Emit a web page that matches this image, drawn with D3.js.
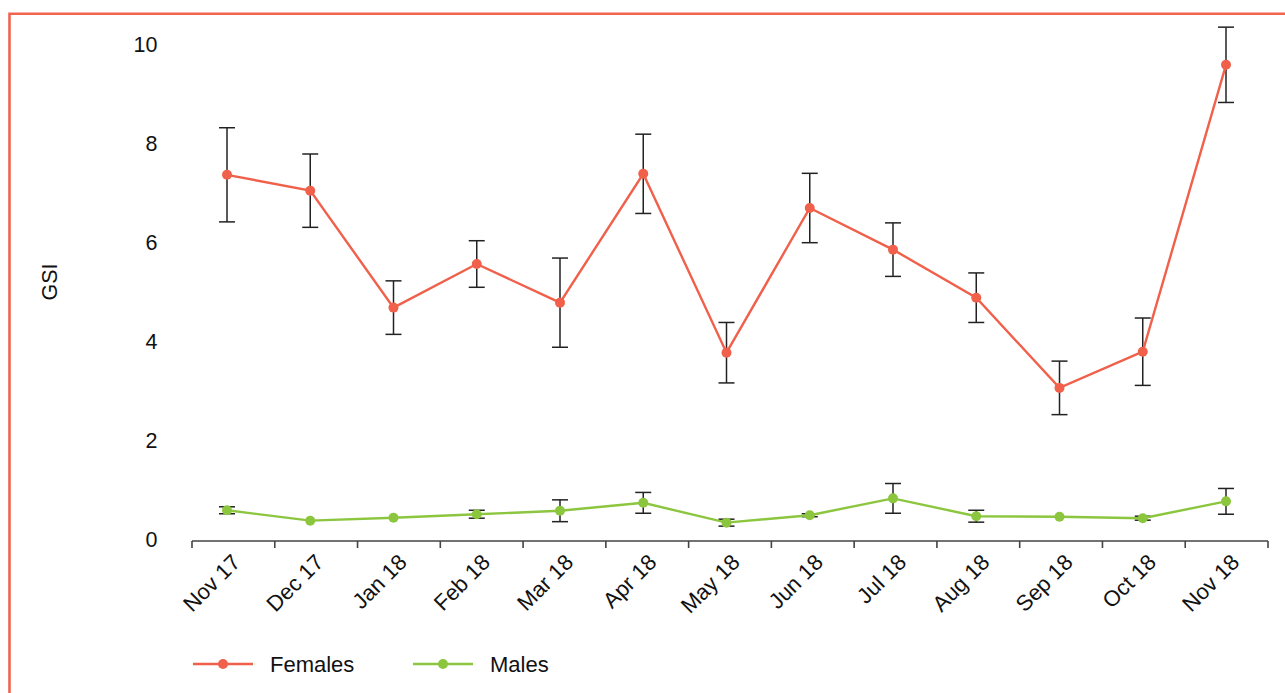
<!DOCTYPE html>
<html lang="en">
    <head>
        <meta charset="UTF-8" />
        <title>GSI by month</title>
        <script src="https://d3js.org/d3.v7.min.js"></script>
        <style>
            body { margin: 0; background: #fff; }
            text { font-family: "Liberation Sans", Arial, sans-serif; fill: #111; }
        </style>
    </head>
    <body>
        <svg width="1285" height="693"></svg>

        <script>
            // data
            const months = ["Nov 17", "Dec 17", "Jan 18", "Feb 18", "Mar 18", "Apr 18", "May 18",
                "Jun 18", "Jul 18", "Aug 18", "Sep 18", "Oct 18", "Nov 18"];
            const femaleMean = [7.36, 7.04, 4.68, 5.56, 4.78, 7.38, 3.77, 6.69, 5.85, 4.88, 3.06, 3.79, 9.58];
            const femaleErr  = [0.95, 0.74, 0.54, 0.47, 0.90, 0.80, 0.61, 0.70, 0.54, 0.50, 0.54, 0.68, 0.76];
            const maleMean = [0.59, 0.38, 0.44, 0.51, 0.58, 0.74, 0.34, 0.49, 0.83, 0.47, 0.46, 0.43, 0.77];
            const maleErr  = [0.07, 0, 0, 0.08, 0.22, 0.21, 0.07, 0.03, 0.30, 0.12, 0, 0.04, 0.26];
            const yTicks = [0, 2, 4, 6, 8, 10];

            const series = [
                { name: "Females", color: "#f0604b", mean: femaleMean, err: femaleErr },
                { name: "Males", color: "#8cc63f", mean: maleMean, err: maleErr },
            ];

            const svg = d3.select("svg");

            // frame
            svg.append("path")
                .attr("d", "M9.5,700 L9.5,13.8 L1290,13.8")
                .attr("fill", "none")
                .attr("stroke", "#f26451")
                .attr("stroke-width", 2.6);

            // scales
            const xBand = d3.scaleBand().domain(months).range([192, 1268]);
            const x = d3.scalePoint().domain(months).range([227, 1226]);
            const y = d3.scaleLinear().domain([0, 10]).range([539.5, 44]);

            // y labels (no axis line)
            svg.append("g")
                .selectAll("text")
                .data(yTicks)
                .join("text")
                .attr("x", 157.5)
                .attr("y", (d) => y(d))
                .attr("dy", "0.36em")
                .attr("text-anchor", "end")
                .attr("font-size", 21.5)
                .text((d) => d);

            svg.append("text")
                .attr("transform", "translate(57,282) rotate(-90)")
                .attr("text-anchor", "middle")
                .attr("font-size", 21.5)
                .text("GSI");

            // x axis
            const xAxis = svg.append("g").attr("transform", "translate(0,541)");
            xAxis.append("line")
                .attr("x1", 192).attr("x2", 1268)
                .attr("stroke", "#444").attr("stroke-width", 1.6);
            xAxis.selectAll("line.tick")
                .data(months.concat(["end"]))
                .join("line")
                .attr("class", "tick")
                .attr("x1", (d, i) => xBand.range()[0] + i * xBand.step())
                .attr("x2", (d, i) => xBand.range()[0] + i * xBand.step())
                .attr("y1", 0).attr("y2", 7)
                .attr("stroke", "#444").attr("stroke-width", 1.6);
            xAxis.selectAll("text")
                .data(months)
                .join("text")
                .attr("transform", (d) => `translate(${x(d) + 9},${17}) rotate(-45)`)
                .attr("text-anchor", "end")
                .attr("dy", "0.36em")
                .attr("font-size", 22)
                .text((d) => d);

            // series
            const line = d3.line().x((d) => x(d.m)).y((d) => y(d.v));
            series.forEach((s) => {
                const pts = months.map((m, i) => ({ m, v: s.mean[i], e: s.err[i] }));
                const g = svg.append("g");

                // error bars
                const eb = g.selectAll("g.err").data(pts.filter((d) => d.e > 0)).join("g").attr("class", "err")
                    .attr("stroke", "#222").attr("stroke-width", 1.5);
                eb.append("line")
                    .attr("x1", (d) => x(d.m)).attr("x2", (d) => x(d.m))
                    .attr("y1", (d) => y(d.v + d.e)).attr("y2", (d) => y(d.v - d.e));
                eb.append("line")
                    .attr("x1", (d) => x(d.m) - 8).attr("x2", (d) => x(d.m) + 8)
                    .attr("y1", (d) => y(d.v + d.e)).attr("y2", (d) => y(d.v + d.e));
                eb.append("line")
                    .attr("x1", (d) => x(d.m) - 8).attr("x2", (d) => x(d.m) + 8)
                    .attr("y1", (d) => y(d.v - d.e)).attr("y2", (d) => y(d.v - d.e));

                g.append("path")
                    .datum(pts)
                    .attr("d", line)
                    .attr("fill", "none")
                    .attr("stroke", s.color)
                    .attr("stroke-width", 2.4);

                g.selectAll("circle")
                    .data(pts)
                    .join("circle")
                    .attr("cx", (d) => x(d.m))
                    .attr("cy", (d) => y(d.v))
                    .attr("r", 5)
                    .attr("fill", s.color);
            });

            // legend
            const legend = svg.append("g").attr("transform", "translate(193,664)");
            const li = legend.selectAll("g").data(series).join("g")
                .attr("transform", (d, i) => `translate(${i * 220},0)`);
            li.append("line").attr("x1", 0).attr("x2", 60)
                .attr("stroke", (d) => d.color).attr("stroke-width", 2.4);
            li.append("circle").attr("cx", 30).attr("r", 5).attr("fill", (d) => d.color);
            li.append("text").attr("x", 77).attr("dy", "0.36em")
                .attr("font-size", 22).text((d) => d.name);
        </script>
    </body>
</html>
